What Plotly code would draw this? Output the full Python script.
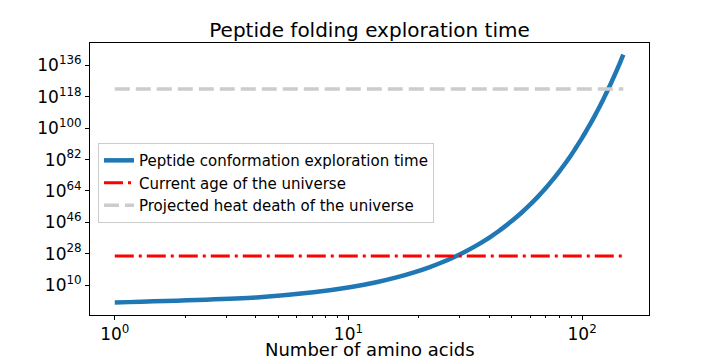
import plotly.graph_objects as go

# Data
n_residues = [1, 4.04, 7.08, 10.12, 13.16, 16.2, 19.24, 22.29, 25.33, 28.37,
              31.41, 34.45, 37.49, 40.53, 43.57, 46.61, 49.65, 52.69, 55.73, 58.78,
              61.82, 64.86, 67.9, 70.94, 73.98, 77.02, 80.06, 83.1, 86.14, 89.18,
              92.22, 95.27, 98.31, 101.35, 104.39, 107.43, 110.47, 113.51, 116.55, 119.59,
              122.63, 125.67, 128.71, 131.76, 134.8, 137.84, 140.88, 143.92, 146.96, 150]
log10_time = [0, 2.9, 5.8, 8.7, 11.6, 14.5, 17.4, 20.3, 23.2, 26.1,
              29.0, 31.9, 34.8, 37.7, 40.6, 43.5, 46.4, 49.3, 52.2, 55.1,
              58.0, 60.9, 63.8, 66.7, 69.6, 72.5, 75.4, 78.3, 81.2, 84.1,
              87.0, 90.0, 92.9, 95.8, 98.7, 101.6, 104.5, 107.4, 110.3, 113.2,
              116.1, 119.0, 121.9, 124.8, 127.7, 130.6, 133.5, 136.4, 139.3, 142.2]
ref_x = [1, 150]
age_universe = 4.35e26
heat_death = 3.0e122

y_tick_exps = [10, 28, 46, 64, 82, 100, 118, 136]
x_tick_exps = [0, 1, 2]

peptide_time = [10.0 ** e for e in log10_time]

fig = go.Figure()
fig.add_trace(go.Scatter(
    x=n_residues, y=peptide_time, mode="lines",
    name="Peptide conformation exploration time",
    line=dict(color="#1f77b4", width=4.5, shape="spline", smoothing=0.8)))
fig.add_trace(go.Scatter(
    x=ref_x, y=[age_universe, age_universe], mode="lines",
    name="Current age of the universe",
    line=dict(color="#ff0000", width=3, dash="19px,5px,3px,5px")))
fig.add_trace(go.Scatter(
    x=ref_x, y=[heat_death, heat_death], mode="lines",
    name="Projected heat death of the universe",
    line=dict(color="#cccccc", width=3.5, dash="15px,6px")))

font = "DejaVu Sans"
fig.update_layout(
    width=712, height=352,
    margin=dict(l=82, r=71, t=35, b=45, autoexpand=False),
    paper_bgcolor="white", plot_bgcolor="white",
    font=dict(family=font, size=16, color="black"),
    title=dict(text="Peptide folding exploration time", x=0.5, xanchor="center",
               xref="paper", y=0.9375, yanchor="middle",
               font=dict(family=font, size=20, color="black")),
    showlegend=True,
    legend=dict(x=0.0143, y=0.632, xanchor="left", yanchor="top",
                bgcolor="rgba(255,255,255,0.8)", bordercolor="#cccccc", borderwidth=1,
                font=dict(family=font, size=15, color="black"),
                itemwidth=30, tracegroupgap=0),
    annotations=[dict(text="Number of amino acids", x=0.5, y=-0.128,
                      xref="paper", yref="paper", xanchor="center", yanchor="middle",
                      showarrow=False, font=dict(family=font, size=18, color="black"))],
)
fig.update_xaxes(
    type="log", range=[-0.106, 2.286], automargin=False,
    tickvals=[10.0 ** e for e in x_tick_exps],
    ticktext=["10<sup>%d</sup>" % e for e in x_tick_exps],
    ticks="outside", ticklen=4, tickcolor="black", tickwidth=1,
    showgrid=False, zeroline=False,
    showline=True, linecolor="black", linewidth=1, mirror=True,
    tickfont=dict(family=font, size=17),
    minor=dict(tickvals=[2, 3, 4, 5, 6, 7, 8, 9, 20, 30, 40, 50, 60, 70, 80, 90],
               ticks="outside", ticklen=2, tickcolor="black", tickwidth=0.8),
)
fig.update_yaxes(
    type="log", range=[-7.2, 148.9], automargin=False,
    tickvals=[10.0 ** e for e in y_tick_exps],
    ticktext=["10<sup>%d</sup>" % e for e in y_tick_exps],
    ticks="outside", ticklen=4, tickcolor="black", tickwidth=1,
    showgrid=False, zeroline=False,
    showline=True, linecolor="black", linewidth=1, mirror=True,
    tickfont=dict(family=font, size=17),
)

fig.write_html("out.html")
